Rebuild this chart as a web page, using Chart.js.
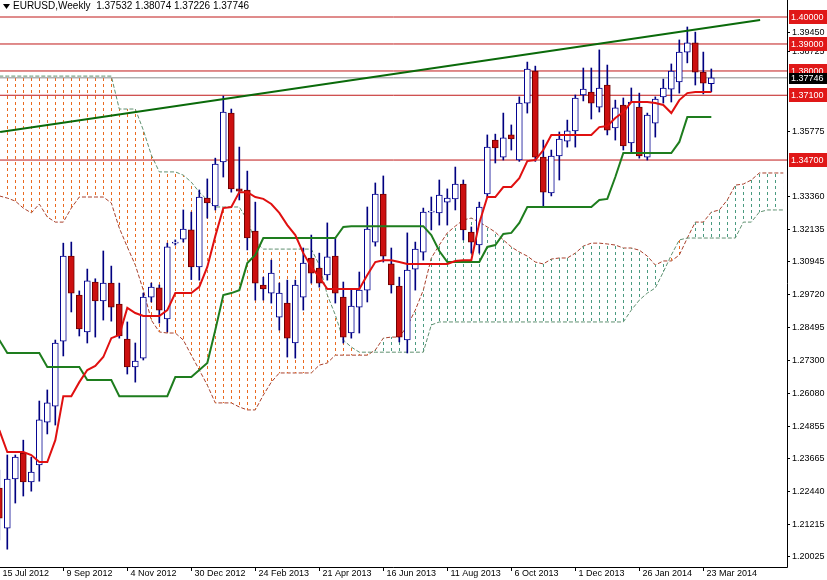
<!DOCTYPE html>
<html><head><meta charset="utf-8">
<script src="https://cdn.jsdelivr.net/npm/chart.js@4.4.1/dist/chart.umd.min.js"></script>
<style>html,body{margin:0;padding:0;background:#fff}#wrap{width:827px;height:580px}</style>
</head><body><div id="wrap"><canvas id="c" width="827" height="580"></canvas></div>
<script>
const title = "EURUSD,Weekly  1.37532 1.38074 1.37226 1.37746";
const open = [1.2254,1.2106,1.2288,1.2384,1.2277,1.2340,1.2499,1.2558,1.2799,1.3114,1.2970,1.2833,1.3018,1.2948,1.3014,1.2936,1.2807,1.2703,1.2736,1.2962,1.2996,1.2881,1.3162,1.3177,1.3211,1.3074,1.3329,1.3300,1.3463,1.3644,1.3363,1.3359,1.3207,1.3007,1.2977,1.2888,1.2940,1.2792,1.2962,1.3107,1.3070,1.3044,1.3114,1.2962,1.2829,1.2925,1.2988,1.3166,1.3344,1.3085,1.3003,1.2803,1.3066,1.3129,1.3277,1.3274,1.3314,1.3326,1.3381,1.3203,1.3155,1.3344,1.3544,1.3481,1.3563,1.3470,1.3681,1.3800,1.3481,1.3348,1.3485,1.3540,1.3578,1.3711,1.3722,1.3666,1.3748,1.3589,1.3674,1.3533,1.3666,1.3481,1.3607,1.3704,1.3733,1.3759,1.3870,1.3904,1.3796,1.37532];
const high = [1.2321,1.2377,1.2377,1.2432,1.2369,1.2577,1.2618,1.2803,1.3162,1.3166,1.2985,1.3066,1.3030,1.3133,1.3077,1.3014,1.2870,1.2792,1.2977,1.3014,1.3007,1.3162,1.3174,1.3285,1.3277,1.3359,1.3400,1.3477,1.3707,1.3659,1.3518,1.3429,1.3314,1.3036,1.3099,1.3014,1.3025,1.3025,1.3144,1.3192,1.3125,1.3237,1.3181,1.3018,1.2988,1.3055,1.3296,1.3385,1.3411,1.3144,1.3036,1.3200,1.3166,1.3292,1.3333,1.3396,1.3363,1.3444,1.3396,1.3222,1.3314,1.3563,1.3566,1.3644,1.3600,1.3704,1.3833,1.3818,1.3544,1.3507,1.3574,1.3618,1.3711,1.3811,1.3811,1.3878,1.3822,1.3692,1.3700,1.3737,1.3718,1.3644,1.3704,1.3770,1.3826,1.3915,1.3963,1.3944,1.3870,1.38074];
const low = [1.2062,1.2028,1.2199,1.2225,1.2243,1.2280,1.2455,1.2488,1.2744,1.2907,1.2818,1.2792,1.2814,1.2877,1.2873,1.2810,1.2677,1.2647,1.2729,1.2944,1.2866,1.2833,1.3155,1.3166,1.3027,1.3025,1.3255,1.3285,1.3407,1.3351,1.3322,1.3137,1.2951,1.2951,1.2940,1.2840,1.2740,1.2736,1.2914,1.3014,1.2999,1.3025,1.2940,1.2792,1.2810,1.2829,1.2944,1.3151,1.3092,1.2977,1.2796,1.2755,1.2988,1.3099,1.3211,1.3229,1.3229,1.3285,1.3174,1.3125,1.3125,1.3333,1.3459,1.3470,1.3507,1.3465,1.3644,1.3465,1.3296,1.3337,1.3396,1.3518,1.3518,1.3689,1.3622,1.3648,1.3563,1.3544,1.3507,1.3500,1.3477,1.3470,1.3555,1.3681,1.3685,1.3718,1.3830,1.3748,1.3715,1.37226];
const close = [1.2143,1.2288,1.2369,1.2277,1.2314,1.2507,1.2570,1.2792,1.3114,1.2977,1.2844,1.3022,1.2948,1.3014,1.2925,1.2818,1.2703,1.2725,1.2962,1.2999,1.2914,1.3148,1.3166,1.3214,1.3074,1.3333,1.3311,1.3455,1.3648,1.3363,1.3355,1.3181,1.3014,1.2992,1.3051,1.2977,1.2810,1.3007,1.3088,1.3051,1.3014,1.3111,1.2977,1.2814,1.2929,1.2988,1.3214,1.3344,1.3114,1.3007,1.2814,1.3062,1.3140,1.3277,1.3281,1.3340,1.3329,1.3381,1.3211,1.3166,1.3296,1.3518,1.3515,1.3552,1.3548,1.3681,1.3807,1.3481,1.3351,1.3485,1.3548,1.3578,1.3700,1.3733,1.3681,1.3737,1.3581,1.3663,1.3522,1.3685,1.3485,1.3637,1.3696,1.3737,1.3800,1.3870,1.3904,1.3796,1.3755,1.37746];
const tenkan = [1.2469,1.2388,1.2388,1.2388,1.2377,1.2351,1.2351,1.2432,1.2595,1.2595,1.2647,1.2692,1.2707,1.2740,1.2810,1.2822,1.2922,1.2903,1.2892,1.2892,1.2892,1.2914,1.2977,1.2977,1.2977,1.3000,1.3074,1.3188,1.3292,1.3296,1.3351,1.3351,1.3333,1.3326,1.3307,1.3274,1.3229,1.3192,1.3125,1.3074,1.3036,1.2992,1.2992,1.2992,1.2992,1.2992,1.3044,1.3092,1.3099,1.3099,1.3092,1.3085,1.3085,1.3085,1.3085,1.3085,1.3085,1.3096,1.3099,1.3099,1.3237,1.3333,1.3333,1.3370,1.3370,1.3403,1.3466,1.3470,1.3507,1.3563,1.3563,1.3563,1.3563,1.3563,1.3563,1.3592,1.3596,1.3626,1.3648,1.3685,1.3685,1.3685,1.3681,1.3674,1.3644,1.3692,1.3718,1.3722,1.3722,1.3722];
const kijun = [1.2803,1.2755,1.2755,1.2755,1.2755,1.2755,1.2703,1.2703,1.2703,1.2703,1.2703,1.2655,1.2655,1.2655,1.2655,1.2595,1.2595,1.2595,1.2595,1.2595,1.2595,1.2595,1.2666,1.2666,1.2666,1.2692,1.2718,1.2840,1.2970,1.2977,1.2988,1.3088,1.3118,1.3181,1.3181,1.3181,1.3181,1.3181,1.3181,1.3181,1.3181,1.3181,1.3181,1.3222,1.3225,1.3225,1.3225,1.3225,1.3225,1.3225,1.3225,1.3225,1.3225,1.3225,1.3192,1.3133,1.3092,1.3092,1.3092,1.3092,1.3092,1.3148,1.3155,1.3196,1.3200,1.3237,1.3296,1.3296,1.3296,1.3296,1.3296,1.3296,1.3296,1.3296,1.3296,1.3322,1.3326,1.3407,1.3496,1.3496,1.3496,1.3496,1.3496,1.3496,1.3496,1.3537,1.3629,1.3629,1.3629,1.3629];
const spanA = [1.3337,1.3329,1.3318,1.3292,1.3274,1.3307,1.3259,1.3240,1.3240,1.3292,1.3333,1.3333,1.3333,1.3333,1.3311,1.3218,1.3148,1.3081,1.2988,1.2877,1.2833,1.2829,1.2829,1.2803,1.2747,1.2692,1.2636,1.2570,1.2570,1.2570,1.2555,1.2544,1.2544,1.2599,1.2647,1.2681,1.2681,1.2681,1.2681,1.2681,1.2710,1.2718,1.2747,1.2747,1.2747,1.2747,1.2747,1.2766,1.2810,1.2814,1.2814,1.2855,1.2914,1.2988,1.3107,1.3155,1.3200,1.3225,1.3248,1.3255,1.3240,1.3222,1.3203,1.3174,1.3148,1.3129,1.3114,1.3092,1.3085,1.3103,1.3107,1.3107,1.3125,1.3151,1.3162,1.3162,1.3159,1.3155,1.3144,1.3144,1.3136,1.3114,1.3081,1.3096,1.3096,1.3118,1.3181,1.3240,1.3240,1.3277,1.3285,1.3322,1.3377,1.3381,1.3396,1.3422,1.3422,1.3422,1.3422];
const spanB = [1.3781,1.3781,1.3781,1.3781,1.3781,1.3781,1.3781,1.3781,1.3781,1.3781,1.3781,1.3781,1.3781,1.3781,1.3781,1.3659,1.3659,1.3659,1.3581,1.3489,1.3426,1.3426,1.3426,1.3414,1.3388,1.3351,1.3322,1.3296,1.3296,1.3296,1.3296,1.3248,1.3166,1.3140,1.3140,1.3140,1.3140,1.3140,1.3140,1.3140,1.3081,1.2970,1.2896,1.2803,1.2777,1.2758,1.2758,1.2758,1.2758,1.2758,1.2758,1.2758,1.2758,1.2758,1.2859,1.2870,1.2870,1.2870,1.2870,1.2870,1.2870,1.2870,1.2870,1.2870,1.2870,1.2870,1.2870,1.2870,1.2870,1.2870,1.2870,1.2870,1.2870,1.2870,1.2870,1.2870,1.2870,1.2870,1.2870,1.2914,1.2951,1.2977,1.2996,1.3055,1.3118,1.3174,1.3181,1.3181,1.3181,1.3181,1.3181,1.3181,1.3181,1.3240,1.3240,1.3277,1.3285,1.3285,1.3285];
const trendLine = [[0.1,1.3574],[95.1,1.3989]];
const levels = [1.40000,1.39000,1.38000,1.37100,1.34700];
const lastPrice = 1.37746;
const yTicks = [1.39450,1.38725,1.35775,1.33360,1.32135,1.30945,1.29720,1.28495,1.27300,1.26080,1.24855,1.23665,1.22440,1.21215,1.20025];
const xLabels = ["15 Jul 2012","9 Sep 2012","4 Nov 2012","30 Dec 2012","24 Feb 2013","21 Apr 2013","16 Jun 2013","11 Aug 2013","6 Oct 2013","1 Dec 2013","26 Jan 2014","23 Mar 2014"];
const xLabelStep = 8;

function hatch(color){
  const c=document.createElement('canvas');c.width=8;c.height=6;
  const g=c.getContext('2d');g.fillStyle=color;g.fillRect(7,0,1,3);
  return g.createPattern(c,'repeat');
}
const ctx=document.getElementById('c').getContext('2d');
const pts=a=>a.map((v,i)=>({x:i,y:v}));
const bull=open.map((o,i)=>close[i]>=o);
const ds=[];
ds.push({type:'line',data:pts(spanB),borderColor:'#5f9070',borderWidth:1,borderDash:[4,2],pointRadius:0,order:10,
  fill:{target:1,above:hatch('#ea6a20'),below:hatch('#4a9a80')}});
ds.push({type:'line',data:pts(spanA),borderColor:'#a8402c',borderWidth:1,borderDash:[4,2],pointRadius:0,order:10,fill:false});
ds.push({type:'bar',data:open.map((o,i)=>({x:i,y:[low[i],high[i]]})),backgroundColor:'#000080',barThickness:1,grouped:false,order:3});
ds.push({type:'bar',data:open.map((o,i)=>({x:i,y:[Math.min(o,close[i]),Math.max(o,close[i])]})),
  backgroundColor:bull.map(b=>b?'#ffffff':'#cc1010'),borderColor:bull.map(b=>b?'#000090':'#700000'),
  borderWidth:1,borderSkipped:false,barThickness:6,grouped:false,order:2});
ds.push({type:'line',data:pts(kijun),borderColor:'#1e7d1e',borderWidth:2,pointRadius:0,tension:0,order:1});
ds.push({type:'line',data:pts(tenkan),borderColor:'#e01010',borderWidth:2,pointRadius:0,tension:0,order:0});
ds.push({type:'line',data:trendLine.map(p=>({x:p[0],y:p[1]})),borderColor:'#0a6a0a',borderWidth:2,pointRadius:0,order:0});
levels.forEach(l=>ds.push({type:'line',data:[{x:-2,y:l},{x:110,y:l}],borderColor:'#c01818',borderWidth:1,pointRadius:0,order:4}));
ds.push({type:'line',data:[{x:-2,y:lastPrice},{x:110,y:lastPrice}],borderColor:'#8a8a8a',borderWidth:1,pointRadius:0,order:4});

const FONT='9px "Liberation Sans"';
const deco={id:'deco',afterDraw(ch){
  const g=ch.ctx,a=ch.chartArea,ys=ch.scales.y,xs=ch.scales.x;
  g.save();
  g.fillStyle='#fff';g.fillRect(a.right,0,827-a.right,580);g.fillRect(0,a.bottom,827,580-a.bottom);
  g.strokeStyle='#000';g.lineWidth=1;g.beginPath();g.moveTo(a.right+0.5,0);g.lineTo(a.right+0.5,a.bottom+0.5);g.lineTo(0,a.bottom+0.5);g.stroke();
  g.font=FONT;g.textBaseline='middle';g.fillStyle='#000';
  yTicks.forEach(t=>{const y=Math.round(ys.getPixelForValue(t))+0.5;g.beginPath();g.moveTo(a.right,y);g.lineTo(a.right+3,y);g.stroke();g.fillText(t.toFixed(5),a.right+5,y);});
  levels.forEach(l=>{const y=Math.round(ys.getPixelForValue(l));g.fillStyle='#e01818';g.fillRect(a.right+2,y-7,38,14);g.fillStyle='#fff';g.fillText(l.toFixed(5),a.right+4,y+1);});
  const yl=Math.round(ys.getPixelForValue(lastPrice));g.fillStyle='#000';g.fillRect(a.right+2,yl-5,38,11);g.fillStyle='#fff';g.fillText(lastPrice.toFixed(5),a.right+4,yl+1);
  g.fillStyle='#000';g.textBaseline='top';
  xLabels.forEach((t,k)=>{const x=Math.round(xs.getPixelForValue(k*xLabelStep))+0.5;g.beginPath();g.moveTo(x,a.bottom);g.lineTo(x,a.bottom+4);g.stroke();g.fillText(t,x+3,a.bottom+2);});
  g.beginPath();g.moveTo(3,4);g.lineTo(10,4);g.lineTo(6.5,9);g.closePath();g.fill();
  g.font='10px "Liberation Sans"';
  g.fillText(title,13,1);
  g.restore();
}};
new Chart(ctx,{data:{datasets:ds},plugins:[deco],options:{responsive:false,animation:false,
  layout:{padding:{left:0,top:0,right:40,bottom:13}},
  plugins:{legend:{display:false},tooltip:{enabled:false}},
  scales:{x:{type:'linear',offset:false,min:0.0875,max:98.46,display:false},y:{type:'linear',min:1.1962,max:1.4063,display:false}}}});
</script></body></html>
